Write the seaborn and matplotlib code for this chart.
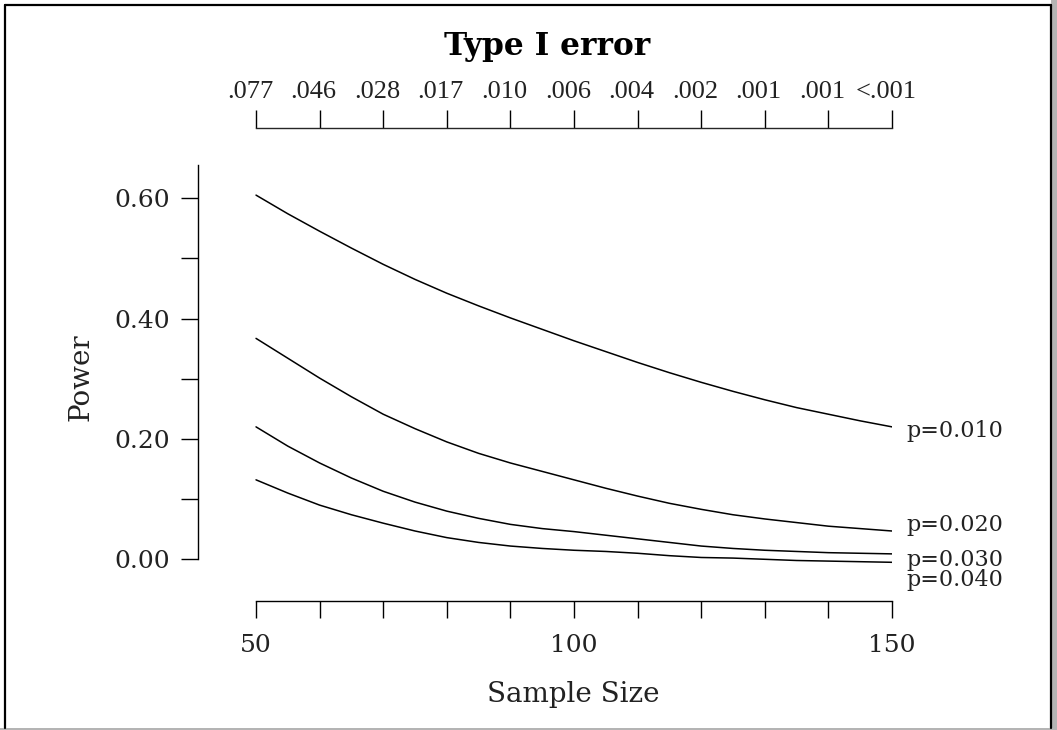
import numpy as np
import pandas as pd
import matplotlib
matplotlib.use('Agg')
import matplotlib.pyplot as plt
import matplotlib.transforms as mtransforms
from matplotlib.lines import Line2D
from matplotlib.patches import Rectangle
import seaborn as sns

sns.set_style('ticks')
plt.rcParams['font.family'] = ['DejaVu Serif']

# values (every 5 units of sample size)
sample_size = [50, 55, 60, 65, 70, 75, 80, 85, 90, 95, 100,
               105, 110, 115, 120, 125, 130, 135, 140, 145, 150]
power_p010 = [0.605, 0.574, 0.545, 0.517, 0.490, 0.465, 0.442, 0.421, 0.401, 0.382, 0.363,
              0.345, 0.327, 0.310, 0.294, 0.279, 0.265, 0.252, 0.241, 0.230, 0.220]
power_p020 = [0.367, 0.334, 0.301, 0.270, 0.241, 0.217, 0.195, 0.176, 0.160, 0.146, 0.132,
              0.118, 0.105, 0.093, 0.083, 0.074, 0.067, 0.061, 0.055, 0.051, 0.047]
power_p030 = [0.220, 0.188, 0.160, 0.135, 0.113, 0.095, 0.080, 0.068, 0.058, 0.051, 0.046,
              0.040, 0.034, 0.028, 0.022, 0.018, 0.015, 0.013, 0.011, 0.010, 0.009]
power_p040 = [0.132, 0.110, 0.090, 0.074, 0.060, 0.047, 0.036, 0.028, 0.022, 0.018, 0.015,
              0.013, 0.010, 0.006, 0.003, 0.002, 0.000, -0.002, -0.003, -0.004, -0.005]
curve_labels = ['p=0.010', 'p=0.020', 'p=0.030', 'p=0.040']
tick_n = [50, 60, 70, 80, 90, 100, 110, 120, 130, 140, 150]
type1_labels = ['.077', '.046', '.028', '.017', '.010', '.006', '.004', '.002', '.001', '.001', '<.001']

# long table for seaborn
curves = [power_p010, power_p020, power_p030, power_p040]
df = pd.concat([pd.DataFrame({'n': sample_size, 'power': c, 'p': lab})
                for c, lab in zip(curves, curve_labels)], ignore_index=True)

fig = plt.figure(figsize=(10.57, 7.30), dpi=100)
ax = fig.add_axes([0.18704, 0.17712, 0.65686, 0.64712])

sns.lineplot(data=df, x='n', y='power', hue='p', palette=['black'] * 4,
             linewidth=1.1, legend=False, ax=ax)

ax.set_xlim(40.83, 150)
ax.set_ylim(-0.0688, 0.716)

# spines
ax.spines['right'].set_visible(False)
ax.spines['top'].set_visible(False)
ax.spines['left'].set_bounds(0, 0.655)
ax.spines['bottom'].set_bounds(50, 150)
for s in ['left', 'bottom']:
    ax.spines[s].set_linewidth(1.0)
    ax.spines[s].set_color('black')

# y axis
ax.set_yticks([0, 0.2, 0.4, 0.6])
ax.set_yticks([0.1, 0.3, 0.5], minor=True)
ax.set_yticklabels(['0.00', '0.20', '0.40', '0.60'])
ax.tick_params(axis='y', which='both', length=12.2, width=1.0, pad=7.5,
               labelsize=18, color='black', labelcolor='#222222')

# bottom axis
ax.set_xticks([50, 100, 150])
ax.set_xticks(tick_n, minor=True)
ax.set_xticklabels(['50', '100', '150'])
ax.tick_params(axis='x', which='both', length=12.2, width=1.0, pad=12,
               labelsize=18, color='black', labelcolor='#222222')
ax.set_xlabel('')
ax.set_ylabel('')

# top axis: Type I error
sec = ax.secondary_xaxis('top')
sec.set_xticks(tick_n)
sec.set_xticklabels(type1_labels)
sec.spines['top'].set_bounds(50, 150)
sec.spines['top'].set_linewidth(1.0)
sec.tick_params(axis='x', length=13, width=1.0, pad=5.5, labelsize=19,
                color='black', labelcolor='#222222')
shift = mtransforms.ScaledTranslation(-6 / 100, 0, fig.dpi_scale_trans)
for t in sec.get_xticklabels():
    t.set_fontfamily('Liberation Serif')
    t.set_transform(t.get_transform() + shift)

# curve labels at the right end
label_offsets = [-7.5, 0, -8.5, -17]
for c, lab, off in zip(curves, curve_labels, label_offsets):
    ax.annotate(lab, xy=(sample_size[-1], c[-1]), xytext=(10, off),
                textcoords='offset points', ha='left', va='baseline',
                fontsize=16, color='#222222', annotation_clip=False)

# titles
fig.text(547 / 1057, 1 - 55 / 730, 'Type I error', ha='center', va='baseline',
         fontsize=22.5, fontweight='bold', color='black')
fig.text(573 / 1057, 1 - 701.5 / 730, 'Sample Size', ha='center', va='baseline',
         fontsize=20, color='#222222')
fig.text(81 / 1057, 1 - 377 / 730, 'Power', ha='center', va='center',
         rotation=90, fontsize=20, color='#222222')

# frame around the picture with grey shadow
W, H = 1057, 730
fig.add_artist(Rectangle((1051 / W, 0), 6 / W, 1, transform=fig.transFigure,
                         facecolor='#b4b4b4', edgecolor='none'))
fig.add_artist(Rectangle((0, 0), 1, 2.5 / H, transform=fig.transFigure,
                         facecolor='#b4b4b4', edgecolor='none'))
fig.add_artist(Line2D([5 / W, 5 / W], [2.5 / H, 1 - 5 / H], transform=fig.transFigure,
                      color='black', linewidth=1.6))
fig.add_artist(Line2D([5 / W, 1051 / W], [1 - 5 / H, 1 - 5 / H], transform=fig.transFigure,
                      color='black', linewidth=1.6))
fig.add_artist(Line2D([1051 / W, 1051 / W], [2.5 / H, 1 - 5 / H], transform=fig.transFigure,
                      color='black', linewidth=1.6))

fig.savefig('out.png', dpi=100)
